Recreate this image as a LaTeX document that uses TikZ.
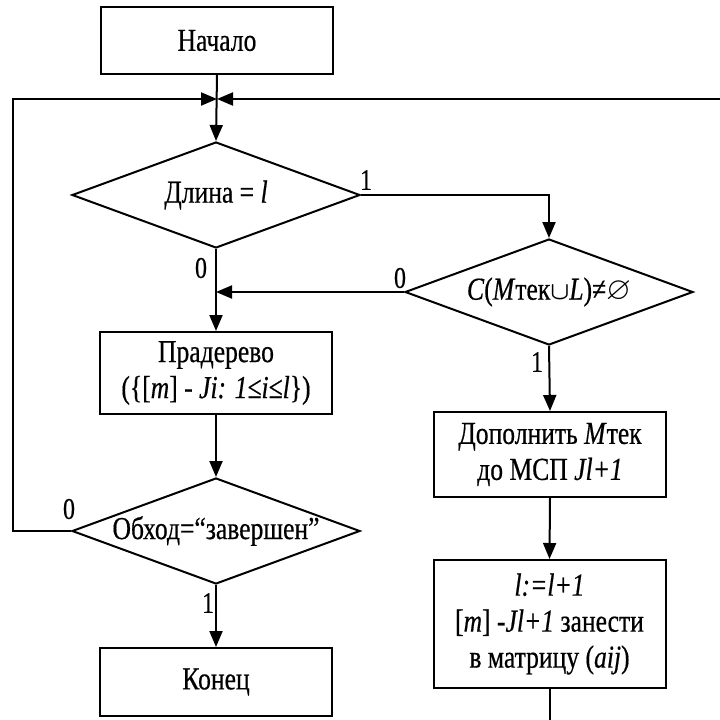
\documentclass[tikz,border=0pt]{standalone}
\usepackage{amsmath,amssymb}
\usepackage{fontspec}
\setmainfont{Liberation Serif}[FakeStretch=0.8,FakeBold=0.5]
\usetikzlibrary{shapes.geometric,arrows.meta}

\begin{document}
\begin{tikzpicture}[x=1pt,y=-1pt,
  every node/.style={font=\fontsize{32}{36}\selectfont},
  flow/.style={line width=2pt},
  arr/.style={flow,-{Triangle[length=16pt,width=13pt]}},
  block/.style={draw,line width=2pt,rectangle,minimum width=232pt,align=center,inner sep=0pt},
  decision/.style={draw,line width=2pt,diamond,minimum width=288pt,minimum height=106pt,inner sep=0pt},
  tag/.style={font=\fontsize{30}{32}\selectfont,inner sep=0pt}]

\useasboundingbox (0,0) rectangle (720,720);

% process blocks
\node[block,minimum height=67pt]  (start) at (217,40.5) {Начало};
\node[block,minimum height=82pt]  (pr)    at (216,373)  {Прадерево\\(\{[\textit{m}] - \textit{Ji: 1≤i≤l}\})};
\node[block,minimum height=68pt]  (end)   at (216,682)  {Конец};
\node[block,minimum height=85pt]  (dop)   at (550,454.5) {Дополнить \textit{M}тек\\до МСП \textit{Jl+1}};
\node[block,minimum height=128pt] (upd)   at (549.5,624) {\textit{l:=l+1}\\{}[\textit{m}] \textit{-Jl+1} занести\\в матрицу (\textit{aij})};

% decisions
\node[decision] (d1) at (216,195) {\makebox[0pt]{Длина = \textit{l}}};
\node[decision] (d2) at (549,292) {\makebox[0pt]{\textit{C}(\textit{M}тек$\boldsymbol{\cup}$\textit{L})≠$\varnothing$}};
\node[decision] (d3) at (216,531) {\makebox[0pt]{Обход=“завершен”}};

% junction on the main line
\coordinate (j) at (217,99);
\coordinate (redge) at (720,99);
\coordinate (m2) at (d1.south |- d2.west);

% connectors
\draw[arr] (start.south) -- (d1.north);
\draw[arr] (redge) -- (j);
\draw[arr] (d3.west) -- ++(-58,0) |- (j);
\draw[arr] (d1.east) -| (d2.north);
\draw[arr] (d2.west) -- (m2);
\draw[arr] (d1.south) -- (pr.north);
\draw[arr] (pr.south) -- (d3.north);
\draw[arr] (d3.south) -- (end.north);
\draw[arr] (d2.south) -- (dop.north);
\draw[arr] (dop.south) -- (upd.north);
\draw[flow] (upd.south) -- ++(0,40);

% branch labels
\node[tag] (l1) at (366,180) {1};
\node[tag] (l2) at (201,268) {0};
\node[tag] (l3) at (400,278) {0};
\node[tag] (l4) at (537,362) {1};
\node[tag] (l5) at (69,509)  {0};
\node[tag] (l6) at (208,603) {1};
\end{tikzpicture}
\end{document}
